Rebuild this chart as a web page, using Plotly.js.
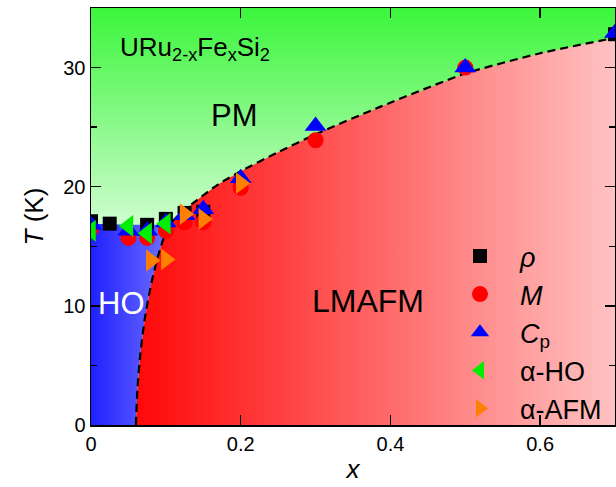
<!DOCTYPE html>
<html>
<head>
<meta charset="utf-8">
<script src="https://cdn.plot.ly/plotly-3.0.1.min.js"></script>
<style>html,body{margin:0;padding:0;background:#fff}#chart{width:616px;height:487px}</style>
</head>
<body>
<div id="chart"></div>
<script>
// ---- data ----
// rho (resistivity)
const rhoX = [0, 0.025, 0.075, 0.1, 0.125, 0.15, 0.2, 0.7];
const rhoT = [17.1, 16.9, 16.8, 17.3, 17.8, 17.9, 20.2, 32.8];
// M (magnetization)
const mX = [0, 0.05, 0.075, 0.1, 0.125, 0.15, 0.2, 0.3, 0.5];
const mT = [16.5, 15.7, 15.7, 16.3, 17.0, 17.0, 19.9, 23.9, 30.0];
// Cp (specific heat)
const cpX = [0, 0.05, 0.075, 0.1, 0.125, 0.15, 0.2, 0.3, 0.5, 0.7];
const cpT = [16.8, 16.3, 16.3, 17.0, 17.6, 18.1, 20.7, 25.1, 30.0, 32.9];
// alpha-HO (thermal expansion, hidden order)
const aHoX = [0, 0.05, 0.075, 0.1];
const aHoT = [16.3, 16.7, 16.1, 16.9];
// alpha-AFM (thermal expansion, AFM)
const aAfmX = [0.08, 0.1, 0.125, 0.15, 0.2];
const aAfmT = [13.8, 13.9, 17.7, 17.3, 20.3];

// phase boundaries
const hoBoundX = [0.060, 0.062, 0.066, 0.072, 0.081, 0.091, 0.099, 0.105];
const hoBoundT = [0, 3, 6, 9, 12, 14.5, 16.0, 16.8];
const pmBoundX = [0.105, 0.12, 0.142, 0.17, 0.2, 0.25, 0.3, 0.386, 0.5, 0.6, 0.7];
const pmBoundT = [16.8, 17.8, 18.9, 20.2, 21.3, 22.9, 24.4, 26.7, 29.5, 31.2, 32.5];
const hoTopX = [0.105, 0.05, 0];
const hoTopT = [16.8, 16.8, 16.9];

const xRange = [0, 0.7];
const yRange = [0, 35];

const FONT = 'Arial, "Liberation Sans", sans-serif';

// regions
const pmRegion = {
  x: [xRange[0], xRange[1], xRange[1], xRange[0]],
  y: [yRange[0], yRange[0], yRange[1], yRange[1]],
  type: 'scatter', mode: 'none', fill: 'toself', showlegend: false, hoverinfo: 'skip',
  fillgradient: {type: 'vertical', start: 17, stop: 35,
    colorscale: [[0, '#cdfdcd'], [1, '#3cf53c']]}
};
const hoRegion = {
  x: [0].concat(hoBoundX, hoTopX),
  y: [0].concat(hoBoundT, hoTopT),
  type: 'scatter', mode: 'none', fill: 'toself', showlegend: false, hoverinfo: 'skip',
  fillgradient: {type: 'horizontal', start: 0, stop: 0.1,
    colorscale: [[0, '#2020ff'], [1, '#6c6cff']]}
};
const afmRegion = {
  x: hoBoundX.concat(pmBoundX.slice(1), [xRange[1]]),
  y: hoBoundT.concat(pmBoundT.slice(1), [0]),
  type: 'scatter', mode: 'none', fill: 'toself', showlegend: false, hoverinfo: 'skip',
  fillgradient: {type: 'horizontal', start: 0.06, stop: 0.7,
    colorscale: [[0, '#ff0808'], [1, '#ffc2c2']]}
};
const dashLine = {
  x: hoBoundX.concat(pmBoundX.slice(1)),
  y: hoBoundT.concat(pmBoundT.slice(1)),
  type: 'scatter', mode: 'lines', showlegend: false, hoverinfo: 'skip',
  line: {color: '#000', width: 2.2, dash: '8px,5px', shape: 'spline', smoothing: 0.6}
};

function pts(x, y, name, symbol, color, size, grp) {
  return {x: x, y: y, name: name, type: 'scatter', mode: 'markers', cliponaxis: true,
    legendgroup: grp,
    marker: {symbol: symbol, color: color, size: size, line: {width: 0}}};
}

const traces = [
  pmRegion, hoRegion, afmRegion, dashLine,
  pts(rhoX, rhoT, '<i>ρ</i>', 'square', '#000000', 14, 'a'),
  pts(mX, mT, '<i>M</i>', 'circle', '#ff0000', 16, 'b'),
  pts(cpX, cpT, '<i>C</i><sub>p</sub>', 'triangle-up', '#0000ff', 19, 'c'),
  pts(aHoX, aHoT, 'α-HO', 'triangle-left', '#00ee00', 19, 'd'),
  pts(aAfmX, aAfmT, 'α-AFM', 'triangle-right', '#ff8000', 19, 'e')
];

const axisCommon = {
  showline: true, linecolor: '#000', linewidth: 1.5, mirror: 'ticks',
  ticks: 'inside', ticklen: 10, tickwidth: 1.5, tickcolor: '#000',
  showgrid: false, zeroline: false,
  tickfont: {family: FONT, size: 20, color: '#000'}
};

const layout = {
  width: 616, height: 487,
  margin: {l: 91, r: 1, t: 8, b: 62},
  paper_bgcolor: '#ffffff', plot_bgcolor: '#ffffff',
  font: {family: FONT, color: '#000'},
  xaxis: Object.assign({}, axisCommon, {
    range: xRange, tickvals: [0, 0.2, 0.4, 0.6], ticktext: ['0', '0.2', '0.4', '0.6'],
    title: {text: '<i>x</i>', font: {family: FONT, size: 26}, standoff: 6}
  }),
  yaxis: Object.assign({}, axisCommon, {
    range: yRange, tickvals: [0, 10, 20, 30],
    minor: {tickvals: [5, 15, 25], ticks: 'inside', ticklen: 6, tickwidth: 1.5, tickcolor: '#000'},
    title: {text: '<i>T</i> (K)', font: {family: FONT, size: 26}, standoff: 12}
  }),
  showlegend: true,
  legend: {x: 0.666, xanchor: 'left', y: -0.019, yanchor: 'bottom', itemwidth: 70,
    bgcolor: 'rgba(0,0,0,0)', borderwidth: 0, tracegroupgap: 0,
    font: {family: FONT, size: 27, color: '#000'}, traceorder: 'grouped'},
  annotations: [
    {x: 0.036, y: 31.6, xref: 'x', yref: 'y', xanchor: 'left', yanchor: 'middle', showarrow: false,
     text: 'URu<sub>2-x</sub>Fe<sub>x</sub>Si<sub>2</sub>', font: {family: FONT, size: 26, color: '#000'}},
    {x: 0.192, y: 26.0, xref: 'x', yref: 'y', showarrow: false, text: 'PM',
     font: {family: FONT, size: 31, color: '#000'}},
    {x: 0.041, y: 10.2, xref: 'x', yref: 'y', showarrow: false, text: 'HO',
     font: {family: FONT, size: 31, color: '#ffffff'}},
    {x: 0.37, y: 10.4, xref: 'x', yref: 'y', showarrow: false, text: 'LMAFM',
     font: {family: FONT, size: 32, color: '#000'}}
  ]
};

Plotly.newPlot('chart', traces, layout, {displayModeBar: false, staticPlot: true});
</script>
</body>
</html>
